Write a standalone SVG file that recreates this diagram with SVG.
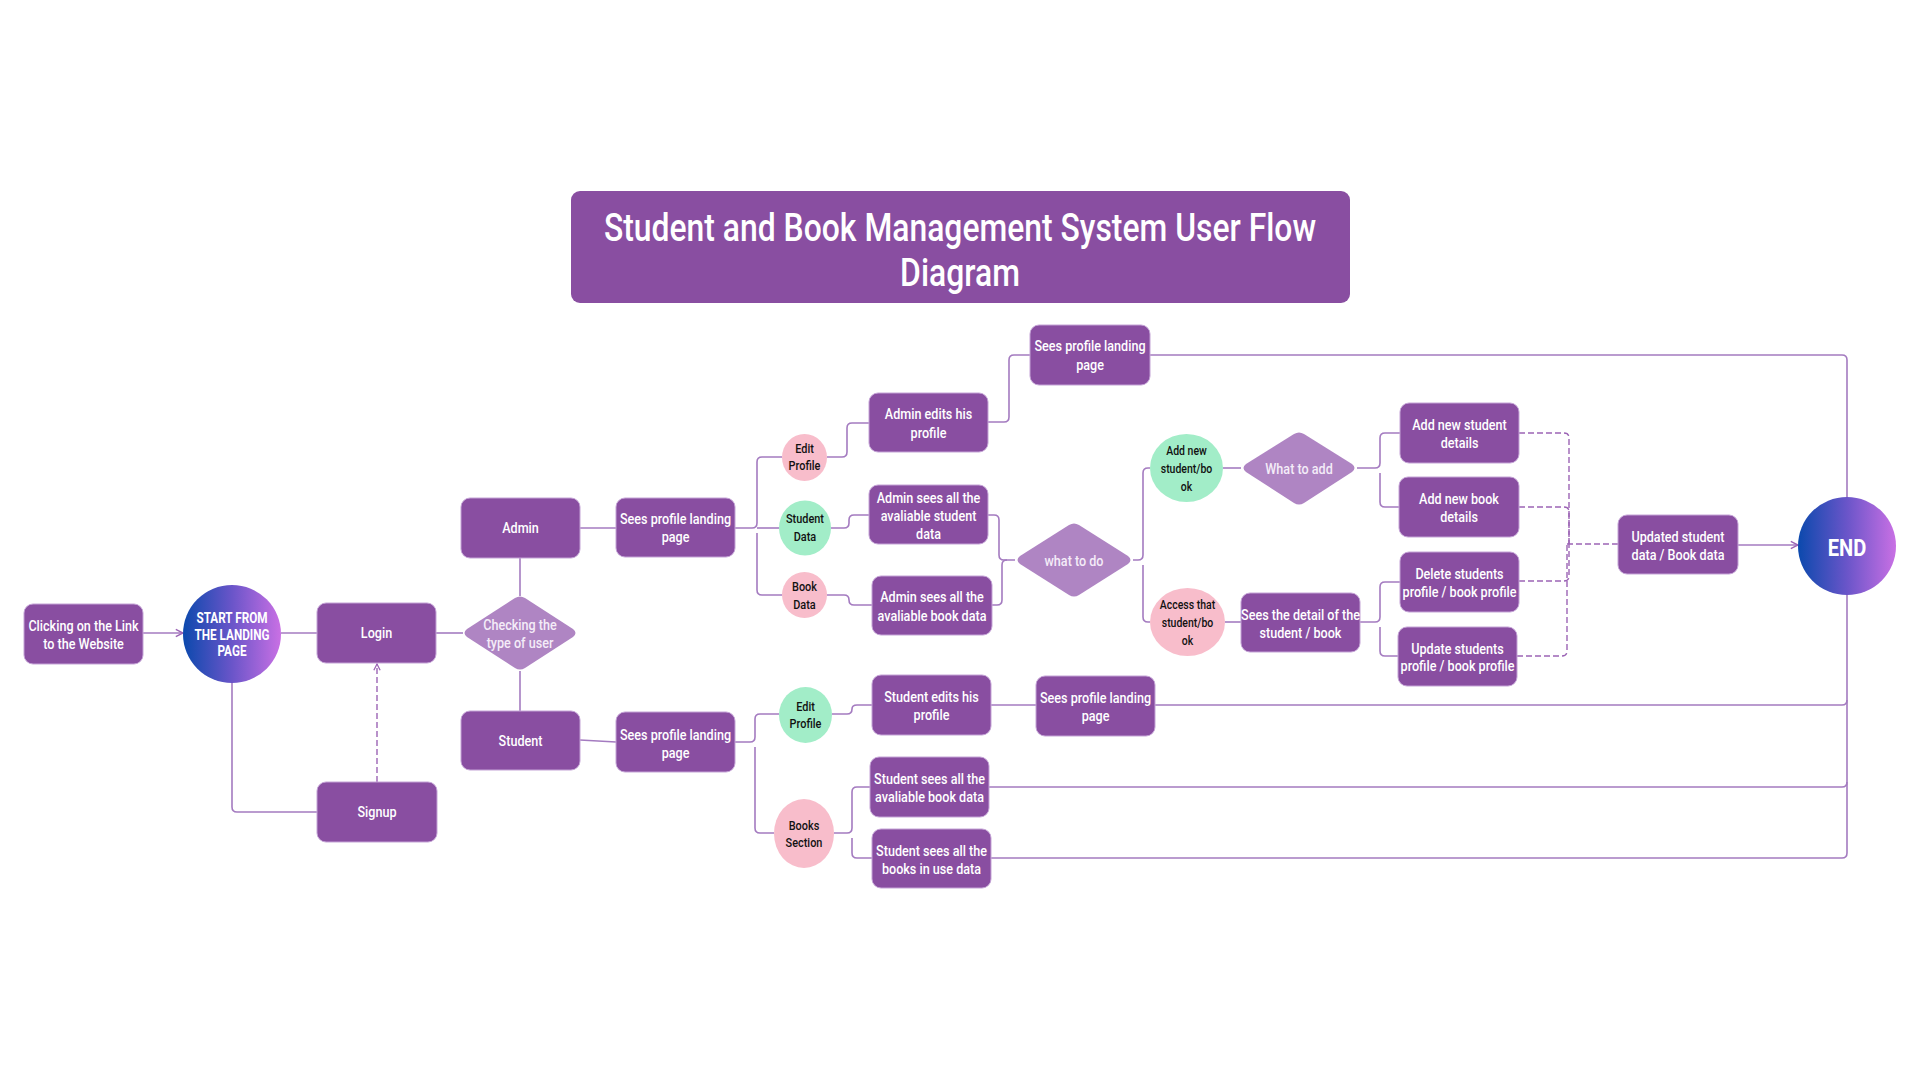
<svg xmlns="http://www.w3.org/2000/svg" width="1920" height="1080" viewBox="0 0 1920 1080">
  <style>
    .box { fill: #894EA1; stroke: #C4A3D6; stroke-width: 1; }
    .dia { fill: #AF85C3; }
    .grn { fill: #A2EDC8; }
    .pnk { fill: #F8BDCB; }
    .t { font-family: Roboto, "Liberation Sans", sans-serif; font-weight: 500; text-anchor: middle; dominant-baseline: central; }
    .w { fill: #FFFFFF; font-size: 15px; }
    .dw { fill: #F4ECF8; font-size: 15px; }
    .k { fill: #111111; font-size: 13px; }
    .ks { fill: #111111; font-size: 12.5px; }
    .ttl { fill: #FFFFFF; font-size: 39px; }
    .big { fill: #FFFFFF; font-weight: bold; }
    .ln { fill: none; stroke: #A47BC0; stroke-width: 1.6; }
    .dash { fill: none; stroke: #9C64B5; stroke-width: 1.4; stroke-dasharray: 6 3; }
  </style>
  <defs>
    <linearGradient id="orb" x1="0" y1="0" x2="1" y2="0">
      <stop offset="0" stop-color="#0B49AD"/>
      <stop offset="0.5" stop-color="#6A55C9"/>
      <stop offset="1" stop-color="#C970E4"/>
    </linearGradient>
    <marker id="arr" viewBox="0 0 8 8" refX="7" refY="4" markerWidth="6" markerHeight="6" orient="auto">
      <path d="M1,1 L7,4 L1,7" fill="none" stroke="#9C64B5" stroke-width="1.2"/>
    </marker>
  </defs>

  <rect width="1920" height="1080" fill="#FFFFFF"/>

  <!-- connectors -->
  <g id="connectors">
    <path class="ln" d="M143,633 H183" marker-end="url(#arr)"/>
    <path class="ln" d="M281,633 H317"/>
    <path class="ln" d="M232,683 V807 Q232,812 237,812 H317"/>
    <path class="dash" d="M377,782 V664" marker-end="url(#arr)"/>
    <path class="ln" d="M436,633 H463"/>
    <path class="ln" d="M520,558 V596"/>
    <path class="ln" d="M520,671 V711"/>
    <path class="ln" d="M580,528 H616"/>
    <path class="ln" d="M580,740 L616,742"/>

    <!-- admin branch -->
    <path class="ln" d="M735,528 H752 Q757,528 757,523 V462 Q757,457 762,457 H782"/>
    <path class="ln" d="M757,528 H779"/>
    <path class="ln" d="M757,533 V590 Q757,595 762,595 H782"/>
    <path class="ln" d="M827,457 H842 Q847,457 847,452 V428 Q847,423 852,423 H869"/>
    <path class="ln" d="M988,422 H1004 Q1009,422 1009,417 V360 Q1009,355 1014,355 H1030"/>
    <path class="ln" d="M831,528 H844 Q849,528 849,523 V520 Q849,515 854,515 H869"/>
    <path class="ln" d="M827,595 H844 Q849,595 849,600 Q849,605 854,605 H872"/>
    <path class="ln" d="M988,515 H994 Q999,515 999,520 V555 Q999,560 1004,560 H1015"/>
    <path class="ln" d="M992,605 H997 Q1002,605 1002,600 V565 Q1002,560 1007,560"/>
    <path class="ln" d="M1133,560 H1138 Q1143,560 1143,555 V473 Q1143,468 1148,468 H1150"/>
    <path class="ln" d="M1143,565 V617 Q1143,622 1148,622 H1150"/>
    <path class="ln" d="M1223,468 H1241"/>
    <path class="ln" d="M1225,622 H1241"/>
    <path class="ln" d="M1357,468 H1375 Q1380,468 1380,463 V438 Q1380,433 1385,433 H1400"/>
    <path class="ln" d="M1380,473 V502 Q1380,507 1385,507 H1399"/>
    <path class="ln" d="M1360,622 H1375 Q1380,622 1380,617 V587 Q1380,582 1385,582 H1400"/>
    <path class="ln" d="M1380,627 V651 Q1380,656 1385,656 H1398"/>

    <!-- merge into updated data -->
    <path class="dash" d="M1519,433 H1564 Q1569,433 1569,438 V544"/>
    <path class="dash" d="M1519,507 H1564 Q1569,507 1569,512 V544"/>
    <path class="dash" d="M1519,581 H1564 Q1569,581 1569,576 V544"/>
    <path class="dash" d="M1517,656 H1562 Q1567,656 1567,651 V544"/>
    <path class="dash" d="M1567,544 H1618"/>
    <path class="ln" d="M1738,545 H1798" marker-end="url(#arr)"/>

    <!-- returns to END -->
    <path class="ln" d="M1150,355 H1842 Q1847,355 1847,360 V497"/>
    <path class="ln" d="M1155,705 H1842 Q1847,705 1847,700 V595"/>
    <path class="ln" d="M989,787 H1842 Q1847,787 1847,782 V700"/>
    <path class="ln" d="M991,858 H1842 Q1847,858 1847,853 V782"/>

    <!-- student branch -->
    <path class="ln" d="M735,742 H750 Q755,742 755,737 V719 Q755,714 760,714 H779"/>
    <path class="ln" d="M755,747 V828 Q755,833 760,833 H774"/>
    <path class="ln" d="M832,714 H847 Q852,714 852,709 Q852,705 857,705 H872"/>
    <path class="ln" d="M991,705 H1036"/>
    <path class="ln" d="M834,833 H847 Q852,833 852,828 V792 Q852,787 857,787 H870"/>
    <path class="ln" d="M852,838 V853 Q852,858 857,858 H872"/>
  </g>

  <!-- title -->
  <g id="title">
    <rect x="571" y="191" width="779" height="112" rx="9" fill="#894EA1"/>
    <text class="t ttl" transform="translate(960,228) scale(.817,1)">Student and Book Management System User Flow</text>
    <text class="t ttl" transform="translate(960,273) scale(.817,1)">Diagram</text>
  </g>

  <!-- entry -->
  <g id="n-click">
    <rect class="box" x="24" y="604" width="119" height="60" rx="9"/>
    <text class="t w" transform="translate(83.5,626) scale(.84,1)">Clicking on the Link</text>
    <text class="t w" transform="translate(83.5,644) scale(.84,1)">to the Website</text>
  </g>
  <g id="n-start">
    <circle cx="232" cy="634" r="49" fill="url(#orb)"/>
    <text class="t big" font-size="14" transform="translate(232,618) scale(.84,1)">START FROM</text>
    <text class="t big" font-size="14" transform="translate(232,635) scale(.84,1)">THE LANDING</text>
    <text class="t big" font-size="14" transform="translate(232,651) scale(.84,1)">PAGE</text>
  </g>
  <g id="n-login">
    <rect class="box" x="317" y="603" width="119" height="60" rx="9"/>
    <text class="t w" transform="translate(376.5,633) scale(.84,1)">Login</text>
  </g>
  <g id="n-signup">
    <rect class="box" x="317" y="782" width="120" height="60" rx="9"/>
    <text class="t w" transform="translate(377,812) scale(.84,1)">Signup</text>
  </g>
  <g id="n-check">
    <path class="dia" d="M467,629 L515,598 Q520,595 525,598 L573,629 Q578,633 573,637 L525,668 Q520,671 515,668 L467,637 Q462,633 467,629 Z"/>
    <text class="t dw" transform="translate(520,625) scale(.84,1)">Checking the</text>
    <text class="t dw" transform="translate(520,643) scale(.84,1)">type of user</text>
  </g>
  <g id="n-admin">
    <rect class="box" x="461" y="498" width="119" height="60" rx="9"/>
    <text class="t w" transform="translate(520.5,528) scale(.84,1)">Admin</text>
  </g>
  <g id="n-student">
    <rect class="box" x="461" y="711" width="119" height="59" rx="9"/>
    <text class="t w" transform="translate(520.5,741) scale(.84,1)">Student</text>
  </g>

  <!-- admin side -->
  <g id="n-admin-landing">
    <rect class="box" x="616" y="498" width="119" height="59" rx="9"/>
    <text class="t w" transform="translate(675.5,519) scale(.84,1)">Sees profile landing</text>
    <text class="t w" transform="translate(675.5,537) scale(.84,1)">page</text>
  </g>
  <g id="n-admin-edit">
    <ellipse class="pnk" cx="804.5" cy="457.5" rx="22.5" ry="23.5"/>
    <text class="t k" transform="translate(804.5,449) scale(.84,1)">Edit</text>
    <text class="t k" transform="translate(804.5,466) scale(.84,1)">Profile</text>
  </g>
  <g id="n-admin-studdata">
    <ellipse class="grn" cx="805" cy="528" rx="26" ry="27.5"/>
    <text class="t k" transform="translate(805,519) scale(.84,1)">Student</text>
    <text class="t k" transform="translate(805,537) scale(.84,1)">Data</text>
  </g>
  <g id="n-admin-bookdata">
    <ellipse class="pnk" cx="804.5" cy="595" rx="22.5" ry="23"/>
    <text class="t k" transform="translate(804.5,587) scale(.84,1)">Book</text>
    <text class="t k" transform="translate(804.5,605) scale(.84,1)">Data</text>
  </g>
  <g id="n-admin-edits">
    <rect class="box" x="869" y="393" width="119" height="59" rx="9"/>
    <text class="t w" transform="translate(928.5,414) scale(.84,1)">Admin edits his</text>
    <text class="t w" transform="translate(928.5,433) scale(.84,1)">profile</text>
  </g>
  <g id="n-admin-landing2">
    <rect class="box" x="1030" y="325" width="120" height="60" rx="9"/>
    <text class="t w" transform="translate(1090,346) scale(.84,1)">Sees profile landing</text>
    <text class="t w" transform="translate(1090,365) scale(.84,1)">page</text>
  </g>
  <g id="n-admin-students">
    <rect class="box" x="869" y="485" width="119" height="59" rx="9"/>
    <text class="t w" transform="translate(928.5,498) scale(.84,1)">Admin sees all the</text>
    <text class="t w" transform="translate(928.5,516) scale(.84,1)">avaliable student</text>
    <text class="t w" transform="translate(928.5,534) scale(.84,1)">data</text>
  </g>
  <g id="n-admin-books">
    <rect class="box" x="872" y="576" width="120" height="59" rx="9"/>
    <text class="t w" transform="translate(932,597) scale(.84,1)">Admin sees all the</text>
    <text class="t w" transform="translate(932,616) scale(.84,1)">avaliable book data</text>
  </g>
  <g id="n-whattodo">
    <path class="dia" d="M1020,556 L1069,525 Q1074,522 1079,525 L1128,556 Q1133,560 1128,564 L1079,595 Q1074,598 1069,595 L1020,564 Q1015,560 1020,556 Z"/>
    <text class="t dw" transform="translate(1074,561) scale(.84,1)">what to do</text>
  </g>
  <g id="n-addnew">
    <ellipse class="grn" cx="1186.5" cy="468" rx="36.5" ry="34"/>
    <text class="t ks" transform="translate(1186.5,451) scale(.84,1)">Add new</text>
    <text class="t ks" transform="translate(1186.5,469) scale(.84,1)">student/bo</text>
    <text class="t ks" transform="translate(1186.5,487) scale(.84,1)">ok</text>
  </g>
  <g id="n-access">
    <ellipse class="pnk" cx="1187.5" cy="622" rx="37.5" ry="34"/>
    <text class="t ks" transform="translate(1187.5,605) scale(.84,1)">Access that</text>
    <text class="t ks" transform="translate(1187.5,623) scale(.84,1)">student/bo</text>
    <text class="t ks" transform="translate(1187.5,641) scale(.84,1)">ok</text>
  </g>
  <g id="n-whattoadd">
    <path class="dia" d="M1246,464 L1294,434 Q1299,431 1304,434 L1352,464 Q1357,468 1352,472 L1304,503 Q1299,506 1294,503 L1246,472 Q1241,468 1246,464 Z"/>
    <text class="t dw" transform="translate(1299,469) scale(.84,1)">What to add</text>
  </g>
  <g id="n-detail">
    <rect class="box" x="1241" y="593" width="119" height="59" rx="9"/>
    <text class="t w" transform="translate(1300.5,615) scale(.84,1)">Sees the detail of the</text>
    <text class="t w" transform="translate(1300.5,633) scale(.84,1)">student / book</text>
  </g>
  <g id="n-addstudent">
    <rect class="box" x="1400" y="403" width="119" height="60" rx="9"/>
    <text class="t w" transform="translate(1459.5,425) scale(.84,1)">Add new student</text>
    <text class="t w" transform="translate(1459.5,443) scale(.84,1)">details</text>
  </g>
  <g id="n-addbook">
    <rect class="box" x="1399" y="477" width="120" height="60" rx="9"/>
    <text class="t w" transform="translate(1459,499) scale(.84,1)">Add new book</text>
    <text class="t w" transform="translate(1459,517) scale(.84,1)">details</text>
  </g>
  <g id="n-delete">
    <rect class="box" x="1400" y="552" width="119" height="60" rx="9"/>
    <text class="t w" transform="translate(1459.5,574) scale(.84,1)">Delete students</text>
    <text class="t w" transform="translate(1459.5,592) scale(.84,1)">profile / book profile</text>
  </g>
  <g id="n-update">
    <rect class="box" x="1398" y="627" width="119" height="59" rx="9"/>
    <text class="t w" transform="translate(1457.5,649) scale(.84,1)">Update students</text>
    <text class="t w" transform="translate(1457.5,666) scale(.84,1)">profile / book profile</text>
  </g>
  <g id="n-updated">
    <rect class="box" x="1618" y="515" width="120" height="59" rx="9"/>
    <text class="t w" transform="translate(1678,537) scale(.84,1)">Updated student</text>
    <text class="t w" transform="translate(1678,555) scale(.84,1)">data / Book data</text>
  </g>
  <g id="n-end">
    <circle cx="1847" cy="546" r="49" fill="url(#orb)"/>
    <text class="t big" font-size="24" transform="translate(1847,547) scale(.84,1)">END</text>
  </g>

  <!-- student side -->
  <g id="n-student-landing">
    <rect class="box" x="616" y="712" width="119" height="60" rx="9"/>
    <text class="t w" transform="translate(675.5,735) scale(.84,1)">Sees profile landing</text>
    <text class="t w" transform="translate(675.5,753) scale(.84,1)">page</text>
  </g>
  <g id="n-student-edit">
    <ellipse class="grn" cx="805.5" cy="715" rx="26.5" ry="28"/>
    <text class="t k" transform="translate(805.5,707) scale(.84,1)">Edit</text>
    <text class="t k" transform="translate(805.5,724) scale(.84,1)">Profile</text>
  </g>
  <g id="n-student-books">
    <ellipse class="pnk" cx="804" cy="833.5" rx="30" ry="34.5"/>
    <text class="t k" transform="translate(804,826) scale(.84,1)">Books</text>
    <text class="t k" transform="translate(804,843) scale(.84,1)">Section</text>
  </g>
  <g id="n-student-edits">
    <rect class="box" x="872" y="675" width="119" height="60" rx="9"/>
    <text class="t w" transform="translate(931.5,697) scale(.84,1)">Student edits his</text>
    <text class="t w" transform="translate(931.5,715) scale(.84,1)">profile</text>
  </g>
  <g id="n-student-landing2">
    <rect class="box" x="1036" y="676" width="119" height="60" rx="9"/>
    <text class="t w" transform="translate(1095.5,698) scale(.84,1)">Sees profile landing</text>
    <text class="t w" transform="translate(1095.5,716) scale(.84,1)">page</text>
  </g>
  <g id="n-student-available">
    <rect class="box" x="870" y="757" width="119" height="60" rx="9"/>
    <text class="t w" transform="translate(929.5,779) scale(.84,1)">Student sees all the</text>
    <text class="t w" transform="translate(929.5,797) scale(.84,1)">avaliable book data</text>
  </g>
  <g id="n-student-inuse">
    <rect class="box" x="872" y="829" width="119" height="59" rx="9"/>
    <text class="t w" transform="translate(931.5,851) scale(.84,1)">Student sees all the</text>
    <text class="t w" transform="translate(931.5,869) scale(.84,1)">books in use data</text>
  </g>
</svg>
